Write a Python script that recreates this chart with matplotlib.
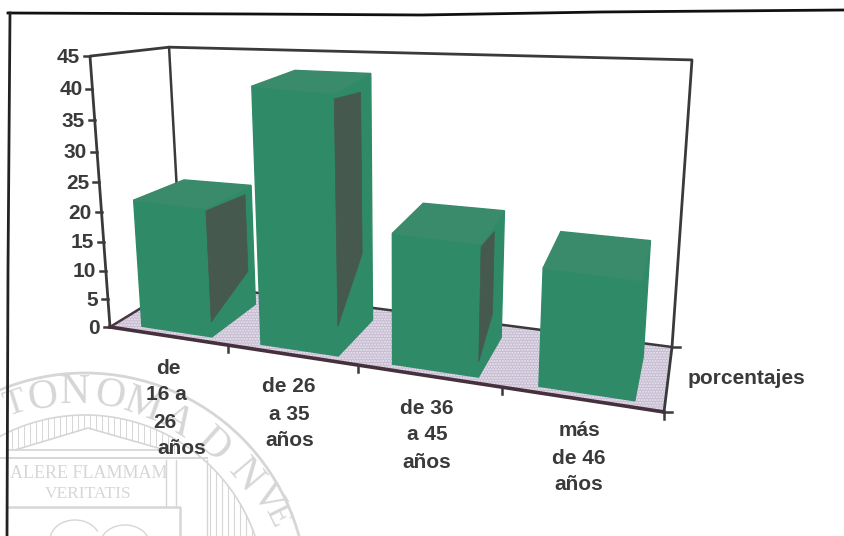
import numpy as np
import matplotlib
matplotlib.use("Agg")
import matplotlib.pyplot as plt
from matplotlib.patches import Polygon, Arc

categories = ["de\n16 a\n26\naños", "de 26\na 35\naños", "de 36\na 45\naños", "más\nde 46\naños"]
values = [22, 42, 21.5, 19]
y_ticks = [0, 5, 10, 15, 20, 25, 30, 35, 40, 45]
series_name = "porcentajes"
Y_MAX = 45

# layout of the drawn 3D box, in pixels
floor_corners = [(110, 327), (664, 412), (672, 347), (182, 283)]
corner_rise = [0.0690, 0.0785, 0.0735, 0.0594]   # height scale at each floor corner
vanish = np.array([400.0, 4253.0])               # vertical vanishing point
GREEN, DARK, FLOOR, INK = "#2f8a68", "#46594f", "#c6bbd2", "#3a3a3a"
panel_depth = [0.85, 0.70, 0.55, 0.0]

fig = plt.figure(figsize=(8.44, 5.36), dpi=100, facecolor="white")
ax = fig.add_axes([0, 0, 1, 1])
ax.set_xlim(0, 844); ax.set_ylim(536, 0); ax.axis("off")

def homography(dst):
    src = [(0, 0), (1, 0), (1, 1), (0, 1)]
    A, b = [], []
    for (x, y), (X, Y) in zip(src, dst):
        A.append([x, y, 1, 0, 0, 0, -x*X, -y*X]); b.append(X)
        A.append([0, 0, 0, x, y, 1, -x*Y, -y*Y]); b.append(Y)
    return np.append(np.linalg.solve(np.array(A, float), np.array(b, float)), 1).reshape(3, 3)

HF = homography(floor_corners)

def P(cat, d, v):
    """category position, depth 0..1, value -> pixel position"""
    u = cat / len(categories)
    p = HF @ np.array([u, d, 1.0])
    p = p[:2] / p[2]
    k = ((1-u)*(1-d)*corner_rise[0] + u*(1-d)*corner_rise[1]
         + u*d*corner_rise[2] + (1-u)*d*corner_rise[3])
    f = v / Y_MAX
    f = f / (1 + 0.088 * (1 - f))
    return tuple(vanish + (p - vanish) * (1 + k * f))

# ---------- seal watermark ----------
SEAL = "#d6d6d6"
cx, cy = 85, 595
ax.add_patch(Arc((cx, cy), 444, 444, theta1=180, theta2=360, ec=SEAL, lw=2.0, zorder=0))
ax.add_patch(Arc((cx, cy), 360, 360, theta1=180, theta2=360, ec=SEAL, lw=1.2, zorder=0))
seal_letters = [("T", 15, 405, 18, 26), ("O", 43, 398, 8, 30), ("N", 75, 393, 0, 30), ("O", 110, 396, -9, 30),
                ("M", 143, 406, -20, 30), ("A", 177, 421, -32, 30), ("D", 213, 445, -42, 30),
                ("N", 245, 476, -50, 30), ("V", 267, 498, -58, 28), ("E", 277, 516, -64, 24)]
for ch, x, y, rot, size in seal_letters:
    ax.text(x, y, ch, family="Liberation Serif", fontsize=size, color=SEAL, ha="center", va="center",
            rotation=rot, zorder=0)
ax.text(89, 473, "ALERE FLAMMAM", family="Liberation Serif", fontsize=13, color=SEAL,
        ha="center", va="center", zorder=0)
ax.text(88, 494, "VERITATIS", family="Liberation Serif", fontsize=12.5, color=SEAL,
        ha="center", va="center", zorder=0)
ax.plot([15, 88, 165], [450, 428, 450], color=SEAL, lw=1.2, zorder=0)
ax.plot([8, 172], [450, 450], color=SEAL, lw=1.2, zorder=0)
ax.plot([0, 207], [458, 458], color=SEAL, lw=1.4, zorder=0)
ax.plot([8, 180, 180], [507, 507, 536], color=SEAL, lw=1.8, zorder=0)
for x in np.arange(12, 176, 6.0):
    y_top = cy - np.sqrt(180**2 - (x - cx)**2)
    ax.plot([x, x], [y_top, 450 - 22 * (1 - abs(x - 88) / 77)], color=SEAL, lw=0.7, zorder=0)
for x in np.arange(210, 262, 6.0):
    y_top = cy - np.sqrt(180**2 - (x - cx)**2)
    ax.plot([x, x], [y_top, 536], color=SEAL, lw=0.8, zorder=0)
for x in (166, 176, 207):
    ax.plot([x, x], [460, 507 if x < 200 else 536], color=SEAL, lw=1, zorder=0)
ax.add_patch(Arc((75, 540), 50, 40, theta1=180, theta2=340, ec=SEAL, lw=1.0, zorder=0))
ax.add_patch(Arc((125, 545), 50, 40, theta1=200, theta2=350, ec=SEAL, lw=1.0, zorder=0))

# ---------- page frame ----------
ax.plot([8, 250, 422, 600, 844], [13, 14, 15, 12, 10], color="#111111", lw=2.0, zorder=1)
ax.plot([10, 8, 7], [13, 270, 536], color="#222222", lw=2.0, zorder=1)

# ---------- floor and walls ----------
n = len(categories)
floor = [P(0, 0, 0), P(n, 0, 0), P(n, 1, 0), P(0, 1, 0)]
ax.add_patch(Polygon(floor, closed=True, fc=FLOOR, ec="#ece8f0", hatch="......", lw=0, zorder=2))
wall_path = [P(0, 0, 0), P(0, 0, Y_MAX), P(0, 1, Y_MAX), P(n, 1, Y_MAX), P(n, 1, 0), P(n, 0, 0)]
ax.plot(*zip(*wall_path), color=INK, lw=2.0, zorder=3)
ax.plot(*zip(P(0, 1, Y_MAX), P(0, 1, 0), P(n, 1, 0)), color=INK, lw=1.8, zorder=3)
ax.plot(*zip(P(0, 1, 0), P(0, 0, 0)), color="#4a3545", lw=1.8, zorder=3)
ax.plot(*zip(P(0, 0, 0), P(n, 0, 0)), color="#45303c", lw=2.6, zorder=9)

for v in y_ticks:
    x, y = P(0, 0, v)
    ax.plot([x - 6, x], [y, y], color=INK, lw=1.8, zorder=3)
    ax.text(x - 10, y + 1, str(v), family="Liberation Sans", weight="bold", fontsize=15, color=INK,
            ha="right", va="center", zorder=10)
for i in range(1, n + 1):
    x, y = P(i, 0, 0)
    ax.plot([x, x], [y, y + 7], color=INK, lw=1.8, zorder=9)
x, y = P(n, 1, 0)
ax.plot([x, x + 8], [y, y], color=INK, lw=1.8, zorder=3)
x, y = P(n, 0, 0)
ax.plot([x - 1, x + 8], [y, y], color=INK, lw=1.8, zorder=9)

# ---------- bars ----------
U0, U1, D0, D1 = 0.22, 0.82, 0.09, 0.77
for i in range(n - 1, -1, -1):
    val = values[i]
    l, r = i + U0, i + U1
    front = [P(l, D0, 0), P(r, D0, 0), P(r, D0, val), P(l, D0, val)]
    side = [P(r, D0, 0), P(r, D1, 0), P(r, D1, val), P(r, D0, val)]
    top = [P(l, D0, val), P(r, D0, val), P(r, D1, val), P(l, D1, val)]
    for poly, c in ((side, GREEN), (front, GREEN), (top, "#3a8a6c")):
        ax.add_patch(Polygon(poly, closed=True, fc=c, ec=c, lw=1.0, zorder=5))
    if panel_depth[i] > 0:
        d_mid = D0 + panel_depth[i] * (D1 - D0)
        panel = [P(r, D0, 0.12 * val), P(r, d_mid, 0.32 * val), P(r, d_mid, 0.95 * val), P(r, D0, 0.98 * val)]
        ax.add_patch(Polygon(panel, closed=True, fc=DARK, ec=DARK, lw=0.5, zorder=6))

# ---------- category labels ----------
label_first_y = [368, 387, 408, 431]
label_x = [[168, 166, 165, 182], [289, 289, 290], [427, 427, 427], [579, 579, 579]]
line_step = 27
for cat, y0, xs in zip(categories, label_first_y, label_x):
    for j, (line, x) in enumerate(zip(cat.split("\n"), xs)):
        ax.text(x, y0 + j * line_step, line, family="Liberation Sans", weight="bold", fontsize=15,
                color=INK, ha="center", va="center", zorder=10)
ax.text(688, 379, series_name, family="Liberation Sans", weight="bold", fontsize=15, color=INK,
        ha="left", va="center", zorder=10)

fig.savefig("out.png", dpi=100, facecolor="white")
